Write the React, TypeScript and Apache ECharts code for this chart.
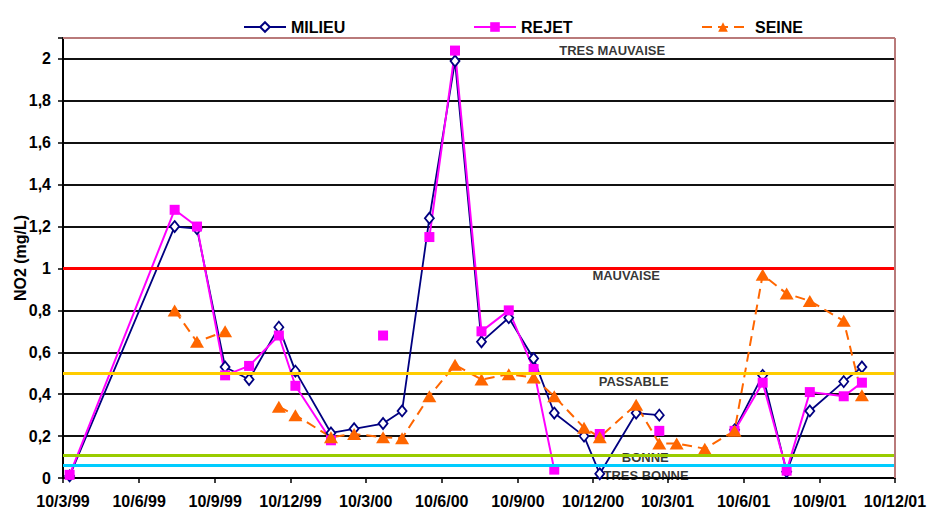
import React, { useEffect, useRef } from "react";
import * as echarts from "echarts";

// ---- data ----
const TICK_DATES = [
  "1999-03-10", "1999-06-10", "1999-09-10", "1999-12-10",
  "2000-03-10", "2000-06-10", "2000-09-10", "2000-12-10",
  "2001-03-10", "2001-06-10", "2001-09-10", "2001-12-10",
];

const DATES = [
  "1999-03-18", "1999-07-23", "1999-08-19", "1999-09-22", "1999-10-21",
  "1999-11-26", "1999-12-16", "2000-01-28", "2000-02-25", "2000-03-31",
  "2000-04-23", "2000-05-26", "2000-06-26", "2000-07-28", "2000-08-30",
  "2000-09-29", "2000-10-24", "2000-11-29", "2000-12-18", "2001-01-31",
  "2001-02-28", "2001-03-21", "2001-04-24", "2001-05-30", "2001-07-03",
  "2001-08-01", "2001-08-29", "2001-10-09", "2001-10-31",
];

const MILIEU = [
  0.01, 1.2, 1.19, 0.53, 0.47,
  0.72, 0.51, 0.215, 0.235, 0.26,
  0.32, 1.24, 1.99, 0.65, 0.765,
  0.57, 0.31, 0.2, 0.02, 0.31,
  0.3, null, null, 0.23, 0.49,
  0.03, 0.32, 0.46, 0.53,
];

const REJET = [
  0.015, 1.28, 1.2, 0.49, 0.535,
  0.68, 0.44, 0.18, null, 0.68,
  null, 1.15, 2.04, 0.7, 0.8,
  0.52, 0.04, null, 0.21, null,
  0.225, null, null, 0.225, 0.455,
  0.035, 0.41, 0.39, 0.455,
];

const SEINE = [
  null, 0.8, 0.65, 0.7, null,
  0.34, 0.3, 0.195, 0.21, 0.195,
  0.19, 0.39, 0.54, 0.47, 0.495,
  0.48, 0.39, 0.24, 0.195, 0.35,
  0.165, 0.165, 0.14, 0.225, 0.97,
  0.88, 0.845, 0.75, 0.395,
];

const SERIES_NAMES = ["MILIEU", "REJET", "SEINE"];

const THRESHOLDS = [1, 0.5, 0.114, 0.057];

const ZONE_NAMES = ["TRES MAUVAISE", "MAUVAISE", "PASSABLE", "BONNE", "TRES BONNE"];
const ZONE_DATES = ["2001-01-02", "2001-01-19", "2001-01-28", "2001-02-11", "2001-02-12"];
const ZONE_VALUES = [2.04, 0.965, 0.46, 0.1, 0.013];

const Y_MIN = 0;
const Y_MAX = 2.1;
const Y_STEP = 0.2;

// ---- helpers ----
const toTime = (s: string) => {
  const [y, m, d] = s.split("-").map(Number);
  return new Date(y, m - 1, d).getTime();
};
const fmtDate = (v: number) => {
  const d = new Date(v);
  return `${d.getDate()}/${d.getMonth() + 1}/${String(d.getFullYear()).slice(2)}`;
};
const pairs = (vals: (number | null)[]) =>
  DATES.map((d, i) => [toTime(d), vals[i] == null ? "-" : vals[i]]);

const FONT = 'Arial, "Liberation Sans", sans-serif';

export default function App() {
  const ref = useRef<HTMLDivElement>(null);

  useEffect(() => {
    if (!ref.current) return;
    const chart = echarts.init(ref.current, null, { renderer: "svg" });
    const ticks = TICK_DATES.map(toTime);
    const xMin = ticks[0];
    const xMax = ticks[ticks.length - 1];
    const thresholdColors = ["#FF0000", "#FFCC00", "#99CC00", "#00CCFF"];
    const legendLefts = [238, 468, 696];
    const legendTextGap = [0, 0, 6];

    chart.setOption({
      animation: false,
      backgroundColor: "#fff",
      textStyle: { fontFamily: FONT },
      grid: {
        left: 63,
        right: 34,
        top: 38,
        bottom: 33,
        containLabel: false,
        outerBoundsMode: "none",
      },
      legend: SERIES_NAMES.map((n, i) => ({
        data: [n],
        left: legendLefts[i],
        top: 14,
        itemWidth: 42,
        itemHeight: 12,
        textStyle: {
          fontFamily: FONT,
          fontWeight: "bold",
          fontSize: 16,
          color: "#000",
          padding: [0, 0, 0, legendTextGap[i]],
        },
      })),
      xAxis: {
        type: "value",
        min: xMin,
        max: xMax,
        axisLine: { show: true, lineStyle: { color: "#000", width: 2 } },
        axisTick: {
          show: true,
          customValues: ticks,
          length: 5,
          lineStyle: { color: "#000", width: 1.5 },
        },
        axisLabel: {
          customValues: ticks,
          formatter: (v: number) => fmtDate(v),
          fontFamily: FONT,
          fontWeight: "bold",
          fontSize: 16,
          color: "#000",
          margin: 15,
        },
        splitLine: { show: false },
      },
      yAxis: {
        type: "value",
        min: Y_MIN,
        max: Y_MAX,
        interval: Y_STEP,
        name: "NO2 (mg/L)",
        nameLocation: "middle",
        nameGap: 35,
        nameMoveOverlap: false,
        nameRotate: 90,
        nameTextStyle: {
          fontFamily: FONT,
          fontWeight: "bold",
          fontSize: 16,
          color: "#000",
        },
        axisLine: { show: true, lineStyle: { color: "#000", width: 2 } },
        axisTick: { show: true, length: 5, lineStyle: { color: "#000", width: 1.5 } },
        axisLabel: {
          formatter: (v: number) =>
            v > 2.05 ? "" : String(Math.round(v * 10) / 10).replace(".", ","),
          fontFamily: FONT,
          fontWeight: "bold",
          fontSize: 16,
          color: "#000",
          margin: 12,
        },
        splitLine: { show: true, lineStyle: { color: "#111", width: 2 } },
      },
      series: [
        {
          name: "zones",
          type: "scatter",
          z: 1,
          silent: true,
          symbol: "circle",
          symbolSize: 1,
          itemStyle: { color: "transparent" },
          data: ZONE_NAMES.map((n, i) => ({ name: n, value: [toTime(ZONE_DATES[i]), ZONE_VALUES[i]] })),
          label: {
            show: true,
            position: "inside",
            formatter: "{b}",
            fontFamily: FONT,
            fontWeight: "bold",
            fontSize: 13,
            color: "#000",
          },
          markLine: {
            silent: true,
            symbol: "none",
            label: { show: false },
            data: [
              ...THRESHOLDS.map((v, i) => ({
                yAxis: v,
                lineStyle: { color: thresholdColors[i], width: 3, type: "solid" },
              })),
              { yAxis: Y_MAX, lineStyle: { color: "#B97A7A", width: 2, type: "solid" } },
              { xAxis: xMax, lineStyle: { color: "#B97A7A", width: 2, type: "solid" } },
            ],
          },
        },
        {
          name: "MILIEU",
          type: "line",
          data: pairs(MILIEU),
          connectNulls: false,
          symbol: "diamond",
          symbolSize: [9, 11],
          showSymbol: true,
          lineStyle: { color: "#000080", width: 1.8 },
          itemStyle: { color: "#fff", borderColor: "#000080", borderWidth: 1.8 },
        },
        {
          name: "REJET",
          type: "line",
          data: pairs(REJET),
          connectNulls: false,
          symbol: "rect",
          symbolSize: 10,
          showSymbol: true,
          lineStyle: { color: "#FF00FF", width: 2 },
          itemStyle: { color: "#FF00FF" },
        },
        {
          name: "SEINE",
          type: "line",
          data: pairs(SEINE),
          connectNulls: false,
          symbol: "triangle",
          symbolSize: [14, 12],
          showSymbol: true,
          lineStyle: { color: "#FF6600", width: 2, type: [10, 6] },
          itemStyle: { color: "#FF6600" },
        },
      ],
    });

    return () => chart.dispose();
  }, []);

  return (
    <div
      ref={ref}
      style={{ position: "fixed", left: 0, top: 0, width: 929, height: 511, background: "#fff" }}
    />
  );
}
